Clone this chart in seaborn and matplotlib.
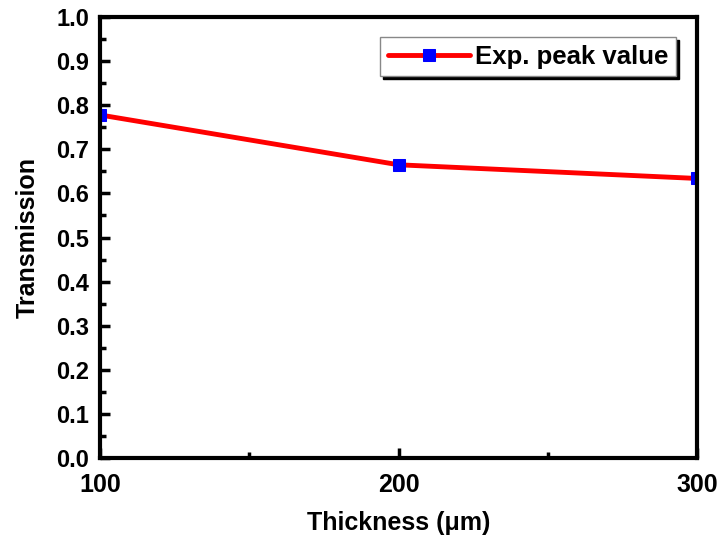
import matplotlib
matplotlib.use("Agg")
import matplotlib.pyplot as plt
import seaborn as sns
import pandas as pd
from matplotlib.ticker import MultipleLocator

thickness = [100, 200, 300]
transmission = [0.778, 0.665, 0.634]
series_label = "Exp. peak value"

sns.set_style("white")
plt.rcParams['font.family'] = ['Liberation Sans', 'DejaVu Sans']
plt.rcParams['font.weight'] = 'bold'
plt.rcParams['text.color'] = 'black'
plt.rcParams['axes.labelcolor'] = 'black'
plt.rcParams['xtick.color'] = 'black'
plt.rcParams['ytick.color'] = 'black'

df = pd.DataFrame({"Thickness": thickness, "Transmission": transmission})

fig = plt.figure(figsize=(7.21, 5.35), dpi=100)
ax = fig.add_axes([0.139, 0.144, 0.828, 0.824])
sns.lineplot(data=df, x="Thickness", y="Transmission", ax=ax, color="#ff0000",
             linewidth=3.5, marker="s", markersize=9, markerfacecolor="#0000ff",
             markeredgecolor="#0000ff", label=series_label, clip_on=True)

ax.set_xlim(100, 300)
ax.set_ylim(0, 1.0)
ax.xaxis.set_major_locator(MultipleLocator(100))
ax.xaxis.set_minor_locator(MultipleLocator(50))
ax.yaxis.set_major_locator(MultipleLocator(0.1))
ax.yaxis.set_minor_locator(MultipleLocator(0.05))
ax.tick_params(which="major", direction="in", length=7, width=2.5, labelsize=17,
               bottom=True, left=True, top=False, right=False, pad=8)
ax.tick_params(which="minor", direction="in", length=4, width=2.5,
               bottom=True, left=True, top=False, right=False)
ax.tick_params(axis="x", labelsize=18, pad=11)
for lab in ax.get_xticklabels() + ax.get_yticklabels():
    lab.set_fontweight("bold")
for s in ax.spines.values():
    s.set_linewidth(3)
    s.set_color("black")

ax.set_xlabel("Thickness (\u03bcm)", fontsize=18, fontweight="bold", labelpad=10)
ax.set_ylabel("Transmission", fontsize=18, fontweight="bold", labelpad=12)

leg = ax.legend(loc="upper right", bbox_to_anchor=(0.965, 0.955), fontsize=18.5,
                frameon=True, fancybox=False, shadow={'color': 'black', 'alpha': 1},
                handlelength=3.2, borderpad=0.3, handletextpad=0.2, borderaxespad=0)
leg.get_frame().set_edgecolor("#888888")
leg.get_frame().set_linewidth(1)
for t in leg.get_texts():
    t.set_fontweight("bold")

fig.savefig("out.png", dpi=100)
